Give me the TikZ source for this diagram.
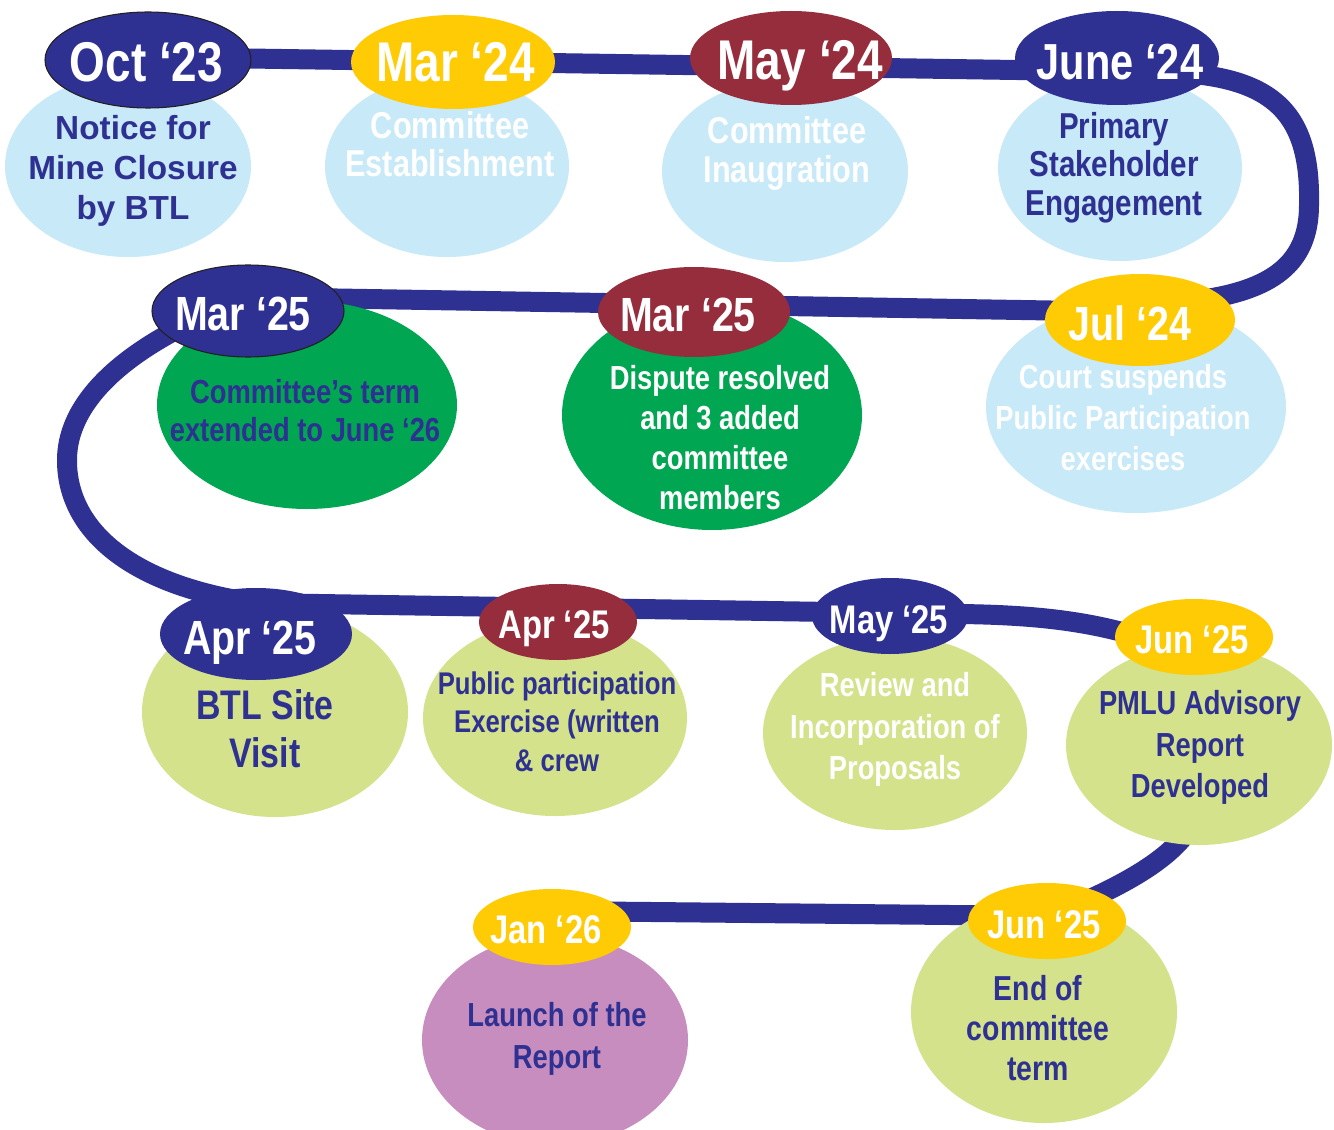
\documentclass[tikz,border=0pt]{standalone}
\usepackage{fontspec}
\setmainfont{Liberation Sans}
\newfontfamily\narrowf{Liberation Sans}[FakeStretch=0.82]
\usetikzlibrary{shapes.geometric}
\definecolor{navy}{HTML}{2E3192}
\definecolor{gold}{HTML}{FFCB05}
\definecolor{maroon}{HTML}{962D3C}
\definecolor{skyfill}{HTML}{C7E9F8}
\definecolor{grn}{HTML}{00A651}
\definecolor{lime}{HTML}{D3E28B}
\definecolor{lilac}{HTML}{C78DBF}
\definecolor{rimcol}{HTML}{231F20}
\tikzset{
  blob/.style={ellipse, inner sep=0pt, draw=none},
  datebox/.style={ellipse, inner sep=0pt, draw=none},
  rim/.style={draw=rimcol, line width=0.8pt},
  fs/.style 2 args={font=\narrowf\bfseries\fontsize{#1}{#2}\selectfont},
  datetxt/.style={text=white, anchor=base, inner sep=0pt},
  bodytxt/.style={align=center, inner sep=0pt},
  track/.style={draw=navy, line width=15pt, line join=round}
}
\begin{document}
\begin{tikzpicture}[x=0.75pt,y=-0.75pt]
\useasboundingbox[fill=white] (0,0) rectangle (1334,1130);

\coordinate (a0) at (148,57);
\coordinate (a1) at (1150,72);
\coordinate (a2) at (1309,205);
\coordinate (a3) at (1200,300);
\coordinate (a4) at (1140,312);
\coordinate (a5) at (248,297);
\coordinate (a6) at (200,318);
\coordinate (a7) at (67,462);
\coordinate (a8) at (255,603);
\coordinate (a9) at (960,614);
\coordinate (a10) at (1140,637);
\coordinate (a11) at (1200,800);
\coordinate (a12) at (1050,916);
\coordinate (a13) at (552,911);

\draw[track] (a0) -- (a1)
  .. controls (1272,72) and (1311,110) .. (a2)
  .. controls (1309,265) and (1270,290) .. (a3)
  -- (a4) -- (a5) -- (a6)
  .. controls (110,360) and (66,410) .. (a7)
  .. controls (68,530) and (130,585) .. (a8)
  -- (a9)
  .. controls (1040,615) and (1090,622) .. (a10)
  -- (a11)
  .. controls (1195,845) and (1140,880) .. (a12)
  -- (a13);

% event circles
\node[blob, fill=skyfill, minimum width=184.5pt, minimum height=136.5pt] (c1) at (128,166) {};
\node[blob, fill=skyfill, minimum width=183pt, minimum height=136.5pt] (c2) at (447,166) {};
\node[blob, fill=skyfill, minimum width=184.5pt, minimum height=136.5pt] (c3) at (785,171) {};
\node[blob, fill=skyfill, minimum width=183pt, minimum height=139.5pt] (c4) at (1120,168) {};
\node[blob, fill=skyfill, minimum width=225pt, minimum height=159pt] (c5) at (1136,407) {};
\node[blob, fill=grn, minimum width=225pt, minimum height=172.5pt] (c6) at (712,415) {};
\node[blob, fill=grn, minimum width=225pt, minimum height=156pt] (c7) at (307,405) {};
\node[blob, fill=lime, minimum width=199.5pt, minimum height=157.5pt] (c8) at (275,712) {};
\node[blob, fill=lime, minimum width=198pt, minimum height=147pt] (c9) at (555,718) {};
\node[blob, fill=lime, minimum width=198pt, minimum height=145.5pt] (c10) at (895,733) {};
\node[blob, fill=lime, minimum width=199.5pt, minimum height=150pt] (c11) at (1199,745) {};
\node[blob, fill=lime, minimum width=199.5pt, minimum height=166.5pt] (c12) at (1044,1012) {};
\node[blob, fill=lilac, minimum width=199.5pt, minimum height=157.5pt] (c13) at (555,1040) {};

% date ovals
\node[datebox, fill=navy, rim, minimum width=154.5pt, minimum height=72pt] (d1) at (148,60) {};
\node[datebox, fill=gold, minimum width=153pt, minimum height=70.5pt] (d2) at (453,62) {};
\node[datebox, fill=maroon, minimum width=151.5pt, minimum height=70.5pt] (d3) at (791,58) {};
\node[datebox, fill=navy, minimum width=153pt, minimum height=70.5pt] (d4) at (1117,58) {};
\node[datebox, fill=gold, minimum width=142.5pt, minimum height=69pt] (d5) at (1140,320) {};
\node[datebox, fill=maroon, minimum width=144pt, minimum height=67.5pt] (d6) at (694,312) {};
\node[datebox, fill=navy, rim, minimum width=144pt, minimum height=69pt] (d7) at (248,311) {};
\node[datebox, fill=navy, minimum width=144pt, minimum height=69pt] (d8) at (256,634) {};
\node[datebox, fill=maroon, minimum width=118.5pt, minimum height=57pt] (d9) at (558,622) {};
\node[datebox, fill=navy, minimum width=117pt, minimum height=57pt] (d10) at (890,616) {};
\node[datebox, fill=gold, minimum width=118.5pt, minimum height=57pt] (d11) at (1194,637) {};
\node[datebox, fill=gold, minimum width=118.5pt, minimum height=57pt] (d12) at (1047,921) {};
\node[datebox, fill=gold, minimum width=118.5pt, minimum height=57pt] (d13) at (552,927) {};

% date labels
\node[datetxt, fs={42}{48}] (l1) at (146.5,82) {Oct ‘23};
\node[datetxt, fs={42}{48}] (l2) at (455.5,82) {Mar ‘24};
\node[datetxt, fs={42}{48}] (l3) at (800,80) {May ‘24};
\node[datetxt, fs={38}{44}] (l4) at (1120,80) {June ‘24};
\node[datetxt, fs={36}{42}] (l5) at (1130,340) {Jul ‘24};
\node[datetxt, fs={36}{42}] (l6) at (688,332) {Mar ‘25};
\node[datetxt, fs={36}{42}] (l7) at (243,331) {Mar ‘25};
\node[datetxt, fs={36}{42}] (l8) at (250,654) {Apr ‘25};
\node[datetxt, fs={30}{36}] (l9) at (554,638) {Apr ‘25};
\node[datetxt, fs={30}{36}] (l10) at (889,633) {May ‘25};
\node[datetxt, fs={30}{36}] (l11) at (1192,653) {Jun ‘25};
\node[datetxt, fs={30}{36}] (l12) at (1044,938) {Jun ‘25};
\node[datetxt, fs={30}{36}] (l13) at (546,943) {Jan ‘26};

% event texts
\node[bodytxt, text=navy, font=\bfseries\fontsize{25}{30}\selectfont] (e1) at (133,171) {Notice for\\Mine Closure\\by BTL};
\node[bodytxt, text=white, fs={28}{29}] (e2) at (450,144) {Committee\\Establishment};
\node[bodytxt, text=white, fs={28}{29}] (e3) at (787,153.5) {Committee\\Inaugration};
\node[bodytxt, text=navy, fs={27}{29}] (e4) at (1114,167.5) {Primary\\Stakeholder\\Engagement};
\node[bodytxt, text=white, fs={25}{31}] (e5) at (1123,417.5) {Court suspends\\Public Participation\\exercises};
\node[bodytxt, text=white, fs={25}{30}] (e6) at (720,437.5) {Dispute resolved\\and 3 added\\committee\\members};
\node[bodytxt, text=navy, fs={25}{29}] (e7) at (305,410.5) {Committee’s term\\extended to June ‘26};
\node[bodytxt, text=navy, fs={31}{36}] (e8) at (265,729) {BTL Site\\Visit};
\node[bodytxt, text=navy, fs={23.5}{29}] (e9) at (557,721.5) {Public participation\\Exercise (written\\\& crew};
\node[bodytxt, text=white, fs={25}{31}] (e10) at (895,729.5) {Review and\\Incorporation of\\Proposals};
\node[bodytxt, text=navy, fs={25}{31}] (e11) at (1200,747.5) {PMLU Advisory\\Report\\Developed};
\node[bodytxt, text=navy, fs={26}{30}] (e12) at (1038,1028.5) {End of\\committee\\term};
\node[bodytxt, text=navy, fs={25}{31}] (e13) at (557,1039) {Launch of the\\Report};
\end{tikzpicture}
\end{document}
